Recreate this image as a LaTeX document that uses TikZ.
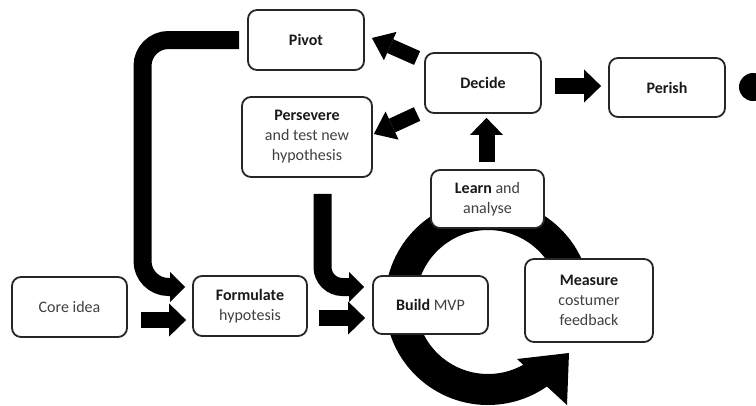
\documentclass[tikz,border=0pt]{standalone}
\usepackage{fontspec}
\setmainfont{Carlito}
\usetikzlibrary{arrows.meta}
\begin{document}
\begin{tikzpicture}[x=1pt,y=-1pt,
  box/.style={draw=black!85, line width=1.8pt, rounded corners=9pt, fill=white,
    align=center, inner sep=0pt, font=\fontsize{16}{20}\selectfont, text=black!75},
  blk/.style={line width=16pt, draw=black,
    -{Triangle[width=33pt,length=17pt,line width=0pt]}},
  diag/.style={line width=15pt, draw=black,
    -{Triangle[width=31pt,length=20pt,line width=0pt]}},
  bent/.style={line width=18pt, draw=black,
    -{Triangle[width=30pt,length=15pt,line width=0pt]}},
  bf/.style={}]
\fill[white] (0,0) rectangle (756,405);
\useasboundingbox (0,0) rectangle (756,405);

% cycle ring
\coordinate (rc) at (488,302);
\fill[black] (rc) ++(5:103pt) arc[start angle=5, end angle=310, radius=103pt]
  -- ++(130:31pt) arc[start angle=310, end angle=5, radius=72pt] -- cycle;
\fill[black] (517,359) -- (569,353) -- (567,405) -- cycle;

% end dot
\fill[black] (753,87) circle[radius=14pt];

% boxes
\node[box, minimum width=116pt, minimum height=60pt] (pivot) at (306,40)
  {\textcolor{black!90}{\textbf{Pivot}}};
\node[box, minimum width=130pt, minimum height=80pt] (persevere) at (307,137)
  {\textcolor{black!90}{\textbf{Persevere}}\\and test new\\hypothesis};
\node[box, minimum width=116pt, minimum height=60pt] (decide) at (483,83)
  {\textcolor{black!90}{\textbf{Decide}}};
\node[box, minimum width=116pt, minimum height=59pt] (perish) at (667,87.5)
  {\textcolor{black!90}{\textbf{Perish}}};
\node[box, minimum width=115pt, minimum height=60pt] (core) at (69.5,307)
  {Core idea};
\node[box, minimum width=114pt, minimum height=60pt] (formulate) at (250,306)
  {\textcolor{black!90}{\textbf{Formulate}}\\hypotesis};
\node[box, minimum width=115pt, minimum height=58pt] (build) at (430.5,305)
  {\textcolor{black!90}{\textbf{Build}} MVP};
\node[box, minimum width=113pt, minimum height=58pt] (learn) at (487.5,199)
  {\textcolor{black!90}{\textbf{Learn}} and\\analyse};
\node[box, minimum width=128pt, minimum height=83pt] (measure) at (589,300.5)
  {\textcolor{black!90}{\textbf{Measure}}\\costumer\\feedback};

% straight block arrows
\draw[blk] ([xshift=13pt,yshift=-13pt]core.east) -- ([xshift=-6pt,yshift=-14pt]formulate.west);
\draw[blk] ([xshift=11pt,yshift=-12pt]formulate.east) -- ([xshift=-7pt,yshift=-13pt]build.west);
\draw[blk] ([xshift=-1pt,yshift=7pt]learn.north) -- ([xshift=3.5pt,yshift=-4pt]decide.south);
\draw[blk] ([xshift=13pt,yshift=-3pt]decide.east) -- ([xshift=-7pt,yshift=1.5pt]perish.west);

% diagonal arrows
\draw[diag] ([xshift=-7pt,yshift=25pt]decide.west) -- ([xshift=7pt,yshift=2pt]pivot.east);
\draw[diag] ([xshift=-7pt,yshift=-31pt]decide.west) -- ([xshift=1pt,yshift=3pt]persevere.east);

% bent arrows
\coordinate (pvc) at (142.5,287);
\draw[bent, rounded corners=26pt] ([xshift=-8pt]pivot.west) -| (pvc) -- ([xshift=-7pt,yshift=19pt]formulate.west);
\coordinate (psc) at (322.5,287);
\draw[bent, rounded corners=20pt] ([xshift=15.5pt,yshift=-16pt]persevere.south) -- (psc) -- ([xshift=-8pt,yshift=18pt]build.west);
\end{tikzpicture}
\end{document}
